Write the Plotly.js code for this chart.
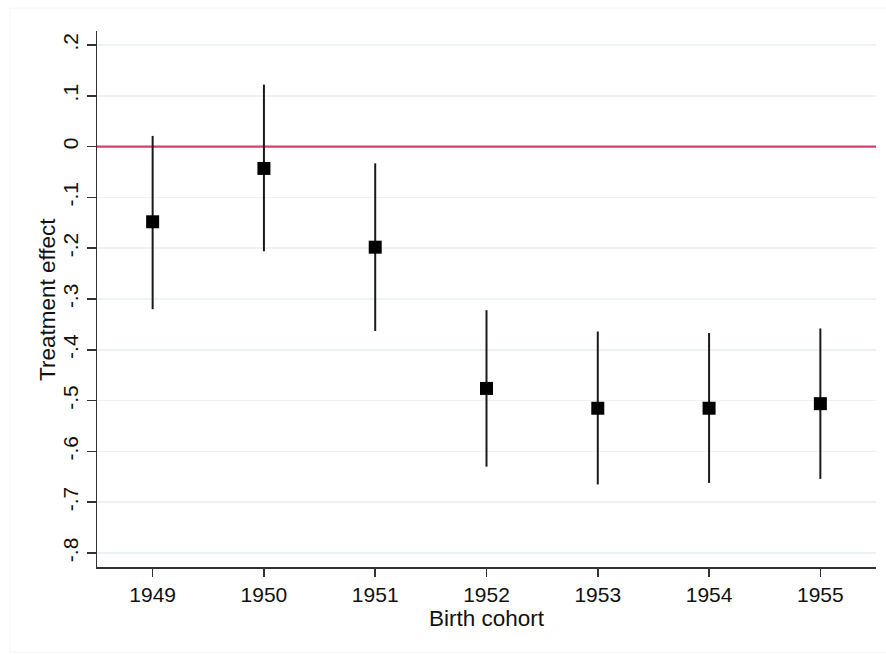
<!DOCTYPE html>
<html>
<head>
<meta charset="utf-8">
<script src="https://cdn.plot.ly/plotly-3.0.1.min.js"></script>
<style>html,body{margin:0;padding:0;background:#fff;}#chart{width:886px;height:655px;}</style>
</head>
<body>
<div id="chart"></div>
<script>
const cohorts = [1949, 1950, 1951, 1952, 1953, 1954, 1955];
const effect  = [-0.148, -0.043, -0.198, -0.476, -0.515, -0.515, -0.506];
const ciLow   = [-0.320, -0.206, -0.363, -0.630, -0.665, -0.662, -0.654];
const ciHigh  = [0.021, 0.122, -0.033, -0.322, -0.364, -0.367, -0.358];
const yTickVals = [0.2, 0.1, 0, -0.1, -0.2, -0.3, -0.4, -0.5, -0.6, -0.7, -0.8];
const yTickText = ['.2', '.1', '0', '-.1', '-.2', '-.3', '-.4', '-.5', '-.6', '-.7', '-.8'];
const refLineValue = 0;
const xTitle = 'Birth cohort';
const yTitle = 'Treatment effect';

const xRange = [cohorts[0] - 0.5, cohorts[cohorts.length - 1] + 0.5];

const refTrace = {
  x: xRange,
  y: [refLineValue, refLineValue],
  type: 'scatter',
  mode: 'lines',
  line: {color: '#d6406a', width: 2.2},
  hoverinfo: 'skip',
  showlegend: false,
  cliponaxis: false
};

const trace = {
  x: cohorts,
  y: effect,
  type: 'scatter',
  mode: 'markers',
  marker: {symbol: 'square', size: 13, color: '#000000'},
  error_y: {
    type: 'data',
    symmetric: false,
    array: ciHigh.map((h, i) => h - effect[i]),
    arrayminus: ciLow.map((l, i) => effect[i] - l),
    width: 0,
    thickness: 2,
    color: '#1a1a1a'
  },
  hoverinfo: 'x+y',
  showlegend: false
};

const fam = 'Arial, "Liberation Sans", sans-serif';
const tickFont = {family: fam, size: 21, color: '#111111'};
const titleFont = {family: fam, size: 22.5, color: '#111111'};

const layout = {
  width: 886,
  height: 655,
  margin: {l: 97, r: 10, t: 31, b: 88},
  paper_bgcolor: '#ffffff',
  plot_bgcolor: '#ffffff',
  font: tickFont,
  showlegend: false,
  xaxis: {
    range: xRange,
    tickvals: cohorts,
    ticktext: cohorts.map(String),
    showgrid: false,
    zeroline: false,
    showline: true,
    linecolor: '#333333',
    linewidth: 1.5,
    ticks: 'outside',
    ticklen: 8,
    tickwidth: 1.5,
    tickcolor: '#333333',
    tickfont: tickFont,
    title: {text: xTitle, font: titleFont, standoff: 0}
  },
  yaxis: {
    range: [-0.8275, 0.2275],
    tickvals: yTickVals,
    ticktext: yTickText,
    tickangle: -90,
    showgrid: true,
    gridcolor: '#edf2f4',
    gridwidth: 1.5,
    zeroline: false,
    showline: true,
    linecolor: '#333333',
    linewidth: 1.5,
    ticks: 'outside',
    ticklen: 9,
    tickwidth: 1.5,
    tickcolor: '#333333',
    tickfont: tickFont
  },
  annotations: [
    {text: yTitle, xref: 'paper', yref: 'paper', x: -0.0642, y: 0.5,
     xanchor: 'center', yanchor: 'middle', textangle: -90, showarrow: false, font: titleFont}
  ],
  shapes: [
    {type: 'rect', xref: 'paper', yref: 'paper', x0: -0.1117, x1: 1.03, y0: -0.159, y1: 1.0429,
     line: {color: '#f2f4f5', width: 1}, layer: 'below'}
  ]
};

Plotly.newPlot('chart', [refTrace, trace], layout, {displayModeBar: false, staticPlot: true});
</script>
</body>
</html>
